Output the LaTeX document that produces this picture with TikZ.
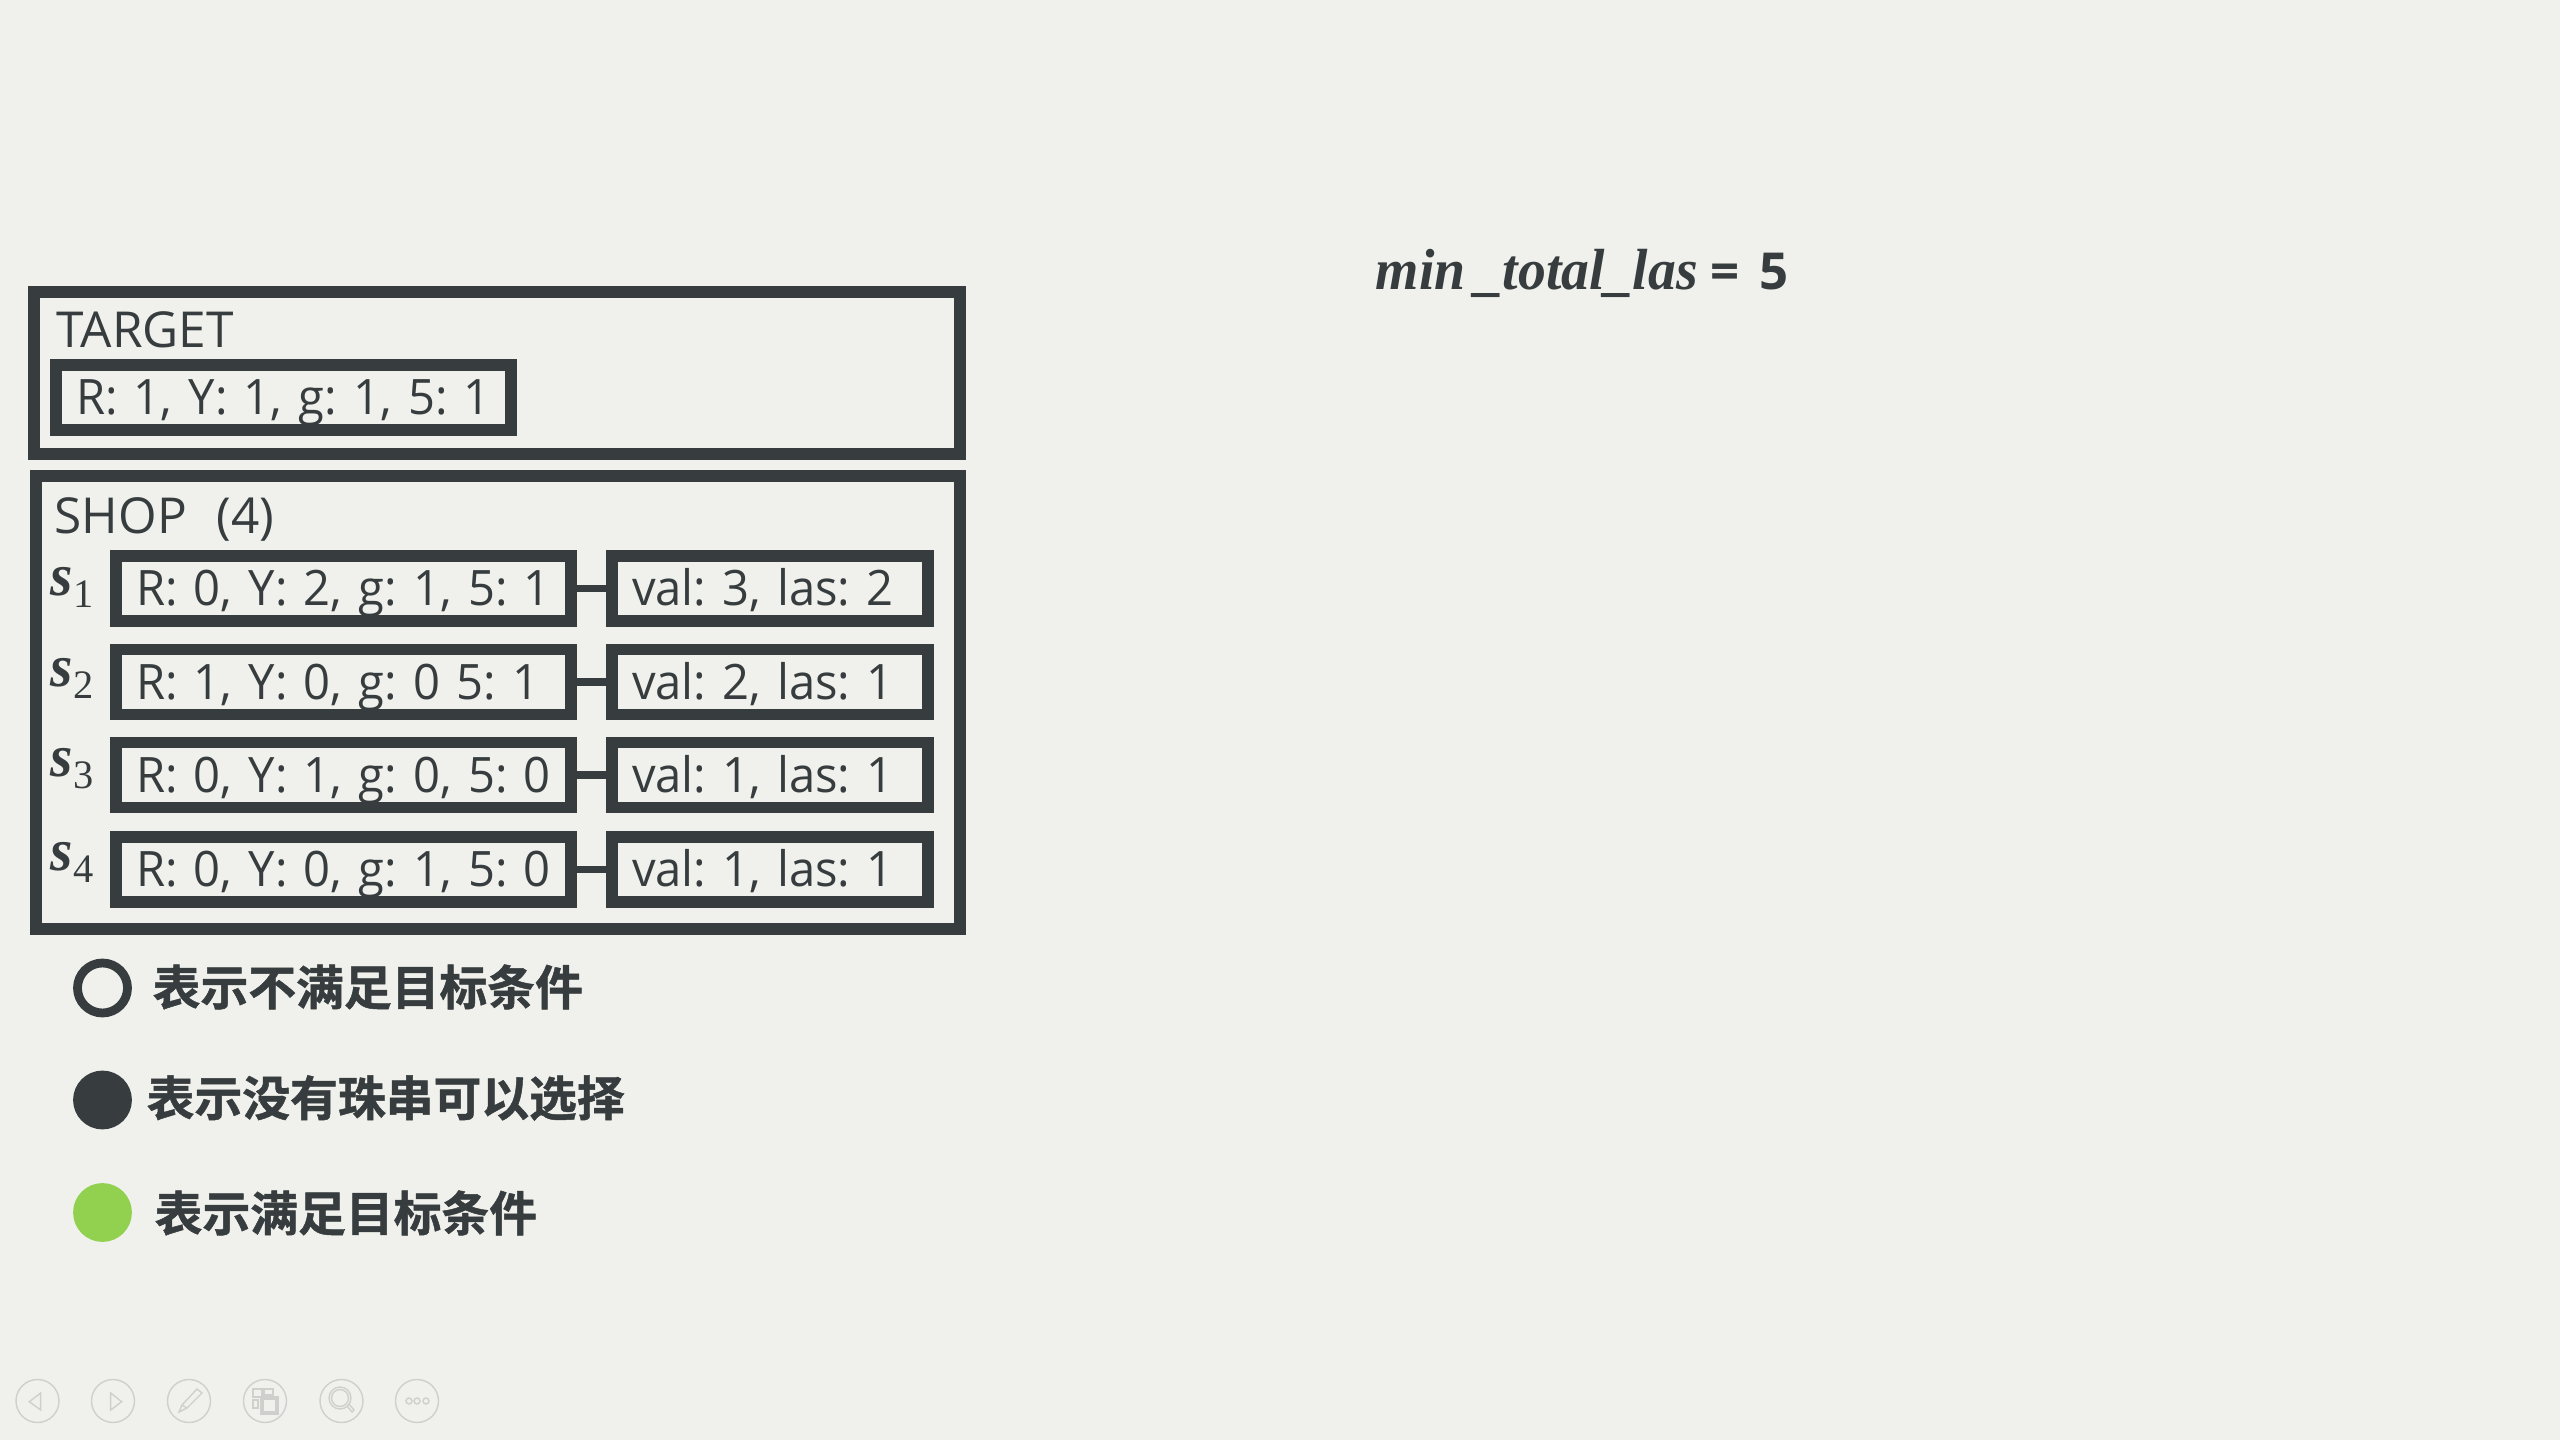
\documentclass[tikz,border=0pt]{standalone}
\usepackage{fontspec}
\setmainfont{Open Sans}
\newfontfamily\boxfont[FakeStretch=0.965]{Open Sans}
\newfontfamily\cjkbold[BoldFont=Noto Sans CJK SC Bold,BoldFeatures={FakeBold=1}]{Noto Sans CJK SC}
\newfontfamily\formulafont[BoldItalicFeatures={FakeStretch=0.96}]{Liberation Serif}
\definecolor{slate}{HTML}{373D3F}
\definecolor{paper}{HTML}{F0F1EC}
\definecolor{leaf}{HTML}{92D14F}
\definecolor{navgray}{HTML}{CFCFCD}
\newcommand{\symS}[1]{{\formulafont\fontsize{17}{20}\selectfont\bfseries\itshape s}\raisebox{-.12cm}{\formulafont\fontsize{11.5}{13}\selectfont #1}}
\tikzset{
  framebox/.style={draw=slate,line width=3.4pt,inner sep=0pt,outer sep=0pt},
  textbox/.style={framebox,align=left,text=slate,inner xsep=.2cm,inner ysep=0pt,
    font=\boxfont\fontsize{13.9}{16}\selectfont\frenchspacing,text height=.35cm,text depth=0pt},
  cntbox/.style={textbox,text width=4.15cm,minimum height=.65cm},
  valbox/.style={textbox,text width=2.76cm,minimum height=.65cm},
  heading/.style={anchor=base west,inner sep=0pt,text=slate,font=\fontsize{14.1}{16}\selectfont},
  shoplabel/.style={anchor=base west,inner sep=0pt,text=slate},
  legendtext/.style={anchor=west,inner sep=0pt,text=slate,font=\cjkbold\bfseries\fontsize{13.6}{16}\selectfont},
  legendmark/.style={circle,minimum size=.5cm,inner sep=0pt,line width=2.5pt},
  navbutton/.style={draw=navgray,circle,line width=.4pt,minimum size=.43cm,inner sep=0pt},
  navicon/.style={draw=navgray,line width=.4pt},
  link/.style={draw=slate,line width=2.2pt}
}
\begin{document}
\begin{tikzpicture}
    \useasboundingbox[fill=paper] (0,0) rectangle (25.6,14.4);
    % target
    \node[framebox,minimum width=9.26cm,minimum height=1.62cm] (target) at (4.97,10.67){};
    \node[heading] (targethead) at (.56,10.92){TARGET};
    \node[cntbox] (targetcnt) at (2.835,10.425){\mbox{R: 1, Y: 1, g: 1, 5: 1}};
    % shop
    \node[framebox,minimum width=9.24cm,minimum height=4.53cm] (shop) at (4.98,7.375){};
    \node[heading] (shophead) at (.54,9.06){SHOP\hspace{.3cm}(4)};
    \foreach \i/\y/\ys/\cnt/\val in {
        1/8.515/8.44/{R: 0, Y: 2, g: 1, 5: 1}/{val: 3, las: 2},
        2/7.58/7.53/{R: 1, Y: 0, g: 0 5: 1}/{val: 2, las: 1},
        3/6.65/6.63/{R: 0, Y: 1, g: 0, 5: 0}/{val: 1, las: 1},
        4/5.705/5.69/{R: 0, Y: 0, g: 1, 5: 0}/{val: 1, las: 1}}{
        \node[cntbox] (cnt\i) at (3.435,\y){\mbox{\cnt}};
        \node[valbox] (val\i) at (7.7,\y){\mbox{\val}};
        \draw[link] (cnt\i) -- (val\i);
        \node[shoplabel] (s\i) at (.5,\ys){\symS{\i}};
    }
    % legend
    \node[legendmark,draw=slate] (open) at (1.025,4.52){};
    \node[legendtext] (opentext) at (1.52,4.53){表示不满足目标条件};
    \node[legendmark,draw=slate,fill=slate] (none) at (1.025,3.40){};
    \node[legendtext] (nonetext) at (1.46,3.42){表示没有珠串可以选择};
    \node[legendmark,draw=leaf,fill=leaf] (ok) at (1.025,2.275){};
    \node[legendtext] (oktext) at (1.54,2.27){表示满足目标条件};
    % formula
    \node[anchor=base west,inner sep=0pt,text=slate] (formula) at (13.75,11.50)
        {{\formulafont\fontsize{16.5}{20}\selectfont\bfseries\itshape min\,\_total\_las}\hspace{.13cm}{\fontsize{14.5}{16}\selectfont\bfseries = \hspace{.06cm}5}};
    % nav buttons
    \foreach \i/\x in {1/.375,2/1.13,3/1.89,4/2.65,5/3.415,6/4.17}{
        \node[navbutton] (nav\i) at (\x,.39){};
    }
    \draw[navicon] (.407,.47) -- (.293,.383) -- (.407,.30) -- cycle;
    \draw[navicon] (1.107,.47) -- (1.217,.383) -- (1.107,.30) -- cycle;
    \draw[navicon] (1.97,.51) -- (2.02,.47) -- (1.87,.32) -- (1.82,.35) -- cycle;
    \draw[navicon] (1.82,.35) -- (1.79,.28) -- (1.87,.32);
    \draw[navicon] (2.53,.51) rectangle (2.62,.43);
    \draw[navicon] (2.64,.51) rectangle (2.73,.45);
    \draw[navicon] (2.53,.40) rectangle (2.58,.32);
    \draw[navicon] (2.61,.43) rectangle (2.78,.26);
    \draw[navicon] (2.63,.41) rectangle (2.76,.28);
    \draw[navicon] (3.40,.42) circle (.11);
    \draw[navicon] (3.40,.42) circle (.085);
    \draw[navicon] (3.47,.34) -- (3.52,.28) -- (3.54,.30) -- (3.49,.36);
    \foreach \x in {4.09,4.17,4.26}{
        \draw[navicon] (\x,.39) circle (.03);
    }
\end{tikzpicture}
\end{document}
